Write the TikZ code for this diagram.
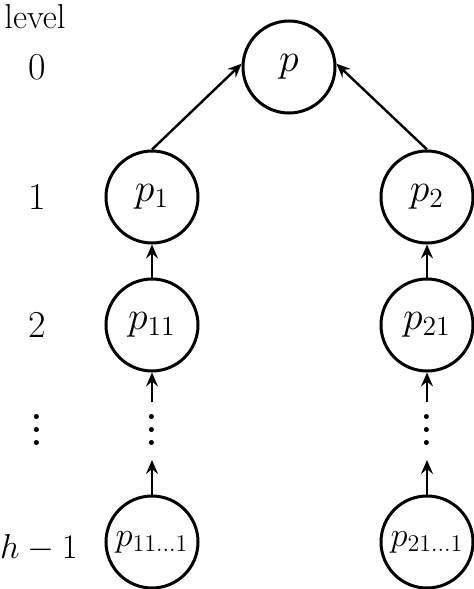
\documentclass[tikz,border=0pt]{standalone}
\usetikzlibrary{arrows.meta}
\newcommand\myvdots{\vbox{\baselineskip6.5pt\lineskiplimit0pt\lineskip0pt\hbox{.}\hbox{.}\hbox{.}}}
\begin{document}
\begin{tikzpicture}[x=0.5pt,y=-0.5pt,
  pnode/.style={circle,draw,line width=1.5pt,minimum size=46pt,inner sep=0pt,font=\LARGE},
  lvl/.style={font=\LARGE,inner sep=0pt},
  dotsnode/.style={font=\LARGE\bfseries,inner sep=0pt},
  conn/.style={line width=1.2pt,-{Stealth[length=7pt,width=6pt,inset=2.5pt]}}]
\useasboundingbox (0,0) rectangle (474,589);
% level labels
\node[lvl] (lvtitle) at (35,17) {level};
\node[lvl] (l0) at (37,67) {\scalebox{1.1}{0}};
\node[lvl] (l1) at (37,197) {\scalebox{1.1}{1}};
\node[lvl] (l2) at (37,325) {\scalebox{1.1}{2}};
\node[dotsnode] (ld) at (37,430) {\myvdots};
\node[lvl] (lh) at (39,548) {$h-1$};
% nodes
\node[pnode] (p) at (289,67) {\scalebox{1.15}{$p$}};
\node[pnode] (p1) at (152,197) {\scalebox{1.15}{$p_1$}};
\node[pnode] (p2) at (427,197) {\scalebox{1.15}{$p_2$}};
\node[pnode] (p11) at (152,325) {\scalebox{1.15}{$p_{11}$}};
\node[pnode] (p21) at (427,325) {\scalebox{1.15}{$p_{21}$}};
\node[dotsnode] (d1) at (152,430) {\myvdots};
\node[dotsnode] (d2) at (427,430) {\myvdots};
\coordinate (d1t) at (152,402);
\coordinate (d1b) at (152,460);
\coordinate (d2t) at (427,402);
\coordinate (d2b) at (427,460);
\node[pnode] (p111) at (152,542) {$p_{11\ldots1}$};
\node[pnode] (p211) at (427,542) {$p_{21\ldots1}$};
% connectors
\draw[conn] (p1.north) -- (p.176);
\draw[conn] (p2.north) -- (p.4);
\draw[conn] (p11.north) -- (p1.south);
\draw[conn] (p21.north) -- (p2.south);
\draw[conn] (d1t) -- (p11.south);
\draw[conn] (d2t) -- (p21.south);
\draw[conn] (p111.north) -- (d1b);
\draw[conn] (p211.north) -- (d2b);
\end{tikzpicture}
\end{document}
